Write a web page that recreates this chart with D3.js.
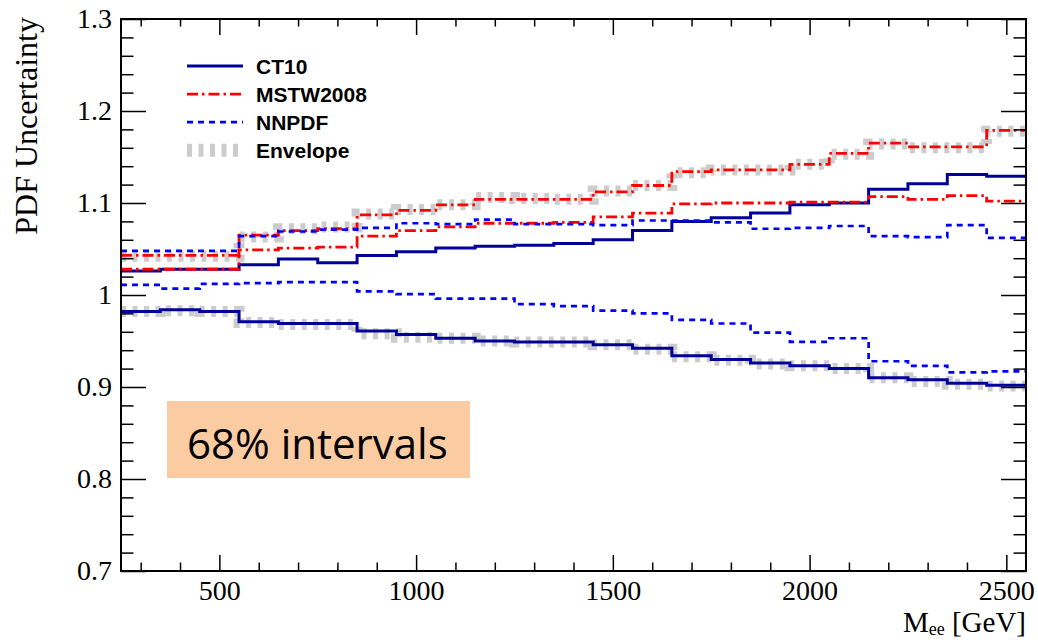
<!DOCTYPE html>
<html>
<head>
<meta charset="utf-8">
<script src="https://cdn.jsdelivr.net/npm/d3@7/dist/d3.min.js"></script>
<style>
  body { margin: 0; background: #fff; }
  .tick text { font-family: "Liberation Serif", "DejaVu Serif", serif; font-size: 28px; fill: #000; }
  .tick line { stroke: #000; stroke-width: 1.5; }
  .legend text { font-family: "Liberation Sans", Arial, sans-serif; font-weight: bold; font-size: 21px; }
</style>
</head>
<body>
<div id="chart"></div>
<script>
// bin left edges (GeV), last bin ends at 2550
var binEdges = [250, 350, 450, 550, 650, 750, 850, 950, 1050, 1150, 1250, 1350,
                1450, 1550, 1650, 1750, 1850, 1950, 2050, 2150, 2250, 2350, 2450];
var binEnd = 2550;

var ct10Up    = [1.026, 1.028, 1.028, 1.033, 1.039, 1.035, 1.043, 1.047, 1.051, 1.053, 1.054, 1.056,
                 1.060, 1.070, 1.080, 1.084, 1.089, 1.098, 1.100, 1.115, 1.121, 1.131, 1.129];
var ct10Down  = [0.982, 0.984, 0.982, 0.971, 0.969, 0.969, 0.961, 0.957, 0.953, 0.950, 0.949, 0.949,
                 0.946, 0.942, 0.934, 0.930, 0.926, 0.923, 0.920, 0.910, 0.908, 0.904, 0.902];
var mstwUp    = [1.043, 1.043, 1.043, 1.065, 1.070, 1.072, 1.087, 1.092, 1.098, 1.104, 1.104, 1.104,
                 1.112, 1.119, 1.134, 1.136, 1.136, 1.142, 1.154, 1.165, 1.161, 1.161, 1.179];
var mstwDown  = [1.028, 1.028, 1.028, 1.049, 1.051, 1.052, 1.064, 1.070, 1.074, 1.078, 1.078, 1.079,
                 1.085, 1.089, 1.099, 1.100, 1.100, 1.101, 1.101, 1.107, 1.104, 1.108, 1.102];
var nnpdfUp   = [1.048, 1.048, 1.048, 1.064, 1.069, 1.071, 1.073, 1.078, 1.077, 1.082, 1.077, 1.077,
                 1.076, 1.081, 1.081, 1.079, 1.072, 1.073, 1.075, 1.064, 1.063, 1.076, 1.062];
var nnpdfDown = [1.011, 1.007, 1.012, 1.013, 1.014, 1.014, 1.004, 1.001, 0.996, 0.996, 0.990, 0.988,
                 0.983, 0.980, 0.973, 0.969, 0.959, 0.949, 0.953, 0.928, 0.923, 0.916, 0.917];
var envUp     = [1.042, 1.042, 1.042, 1.063, 1.072, 1.074, 1.088, 1.093, 1.098, 1.106, 1.105, 1.104,
                 1.113, 1.119, 1.133, 1.136, 1.136, 1.142, 1.153, 1.164, 1.160, 1.160, 1.178];
var envDown   = [0.982, 0.983, 0.982, 0.970, 0.968, 0.968, 0.958, 0.954, 0.953, 0.950, 0.949, 0.949,
                 0.946, 0.941, 0.933, 0.929, 0.925, 0.923, 0.920, 0.910, 0.906, 0.903, 0.901];

var xMajor = [500, 1000, 1500, 2000, 2500];
var yMajor = [0.7, 0.8, 0.9, 1.0, 1.1, 1.2, 1.3];
var legendNames = ['CT10', 'MSTW2008', 'NNPDF', 'Envelope'];

var svgWidth = 1038, svgHeight = 640,
    margin = { top: 19, right: 12, bottom: 69, left: 121 },
    chartWidth = svgWidth - margin.left - margin.right,
    chartHeight = svgHeight - margin.top - margin.bottom;

var x = d3.scaleLinear().domain([250, 2550]).range([0, chartWidth]);
var y = d3.scaleLinear().domain([0.7, 1.3]).range([chartHeight, 0]);

var svg = d3.select('#chart').append('svg')
    .attr('width', svgWidth)
    .attr('height', svgHeight)
    .append('g')
    .attr('transform', 'translate(' + margin.left + ',' + margin.top + ')');

svg.append('clipPath')
    .attr('id', 'plot-clip')
    .append('rect')
    .attr('width', chartWidth)
    .attr('height', chartHeight);

// 68% box behind everything
svg.append('rect')
    .attr('x', 46).attr('y', 382)
    .attr('width', 303).attr('height', 77)
    .attr('fill', '#fbcba2');
svg.append('text')
    .attr('x', 66).attr('y', 440)
    .attr('font-family', '"Open Sans", sans-serif')
    .attr('font-size', 42)
    .attr('fill', '#000')
    .text('68% intervals');

var stepLine = d3.line()
    .curve(d3.curveStepAfter)
    .x(function (d) { return x(d[0]); })
    .y(function (d) { return y(d[1]); });

function toSteps(values) {
    var pts = binEdges.map(function (e, i) { return [e, values[i]]; });
    pts.push([binEnd, values[values.length - 1]]);
    return pts;
}

var styles = {
    env:   { stroke: '#cccccc', width: 11, dash: '5,6.5' },
    ct10:  { stroke: '#000099', width: 3, dash: null },
    mstw:  { stroke: '#ff0000', width: 2.8, dash: '11,4,2.5,4' },
    nnpdf: { stroke: '#0000ff', width: 2.7, dash: '6,5' }
};

var series = [
    ['env', envUp], ['env', envDown],
    ['ct10', ct10Up], ['ct10', ct10Down],
    ['mstw', mstwUp], ['mstw', mstwDown],
    ['nnpdf', nnpdfUp], ['nnpdf', nnpdfDown]
];

var lines = svg.append('g').attr('clip-path', 'url(#plot-clip)');
series.forEach(function (s) {
    var st = styles[s[0]];
    lines.append('path')
        .attr('d', stepLine(toSteps(s[1])))
        .attr('fill', 'none')
        .attr('stroke', st.stroke)
        .attr('stroke-width', st.width)
        .attr('stroke-dasharray', st.dash);
});

// axes, ROOT style: ticks pointing inward on all four sides
var xMinor = d3.range(300, 2550, 100).filter(function (v) { return xMajor.indexOf(v) < 0; });
var yMinor = d3.range(0, 31).map(function (i) { return +(0.7 + i * 0.02).toFixed(2); })
    .filter(function (v) { return Math.round(v * 100) % 10 !== 0; });

function fmtY(d) { return String(+d.toFixed(1)); }

svg.append('g').attr('transform', 'translate(0,' + chartHeight + ')')
    .call(d3.axisBottom(x).tickValues(xMajor).tickSize(-16).tickPadding(9).tickFormat(d3.format('d')));
svg.append('g').attr('transform', 'translate(0,' + chartHeight + ')')
    .call(d3.axisBottom(x).tickValues(xMinor).tickSize(-8.5).tickFormat(''));
svg.append('g')
    .call(d3.axisTop(x).tickValues(xMajor).tickSize(-16).tickFormat(''));
svg.append('g')
    .call(d3.axisTop(x).tickValues(xMinor).tickSize(-7.5).tickFormat(''));
svg.append('g')
    .call(d3.axisLeft(y).tickValues(yMajor).tickSize(-25).tickPadding(9).tickFormat(fmtY));
svg.append('g')
    .call(d3.axisLeft(y).tickValues(yMinor).tickSize(-12.5).tickFormat(''));
svg.append('g').attr('transform', 'translate(' + chartWidth + ',0)')
    .call(d3.axisRight(y).tickValues(yMajor).tickSize(-25).tickFormat(''));
svg.append('g').attr('transform', 'translate(' + chartWidth + ',0)')
    .call(d3.axisRight(y).tickValues(yMinor).tickSize(-12.5).tickFormat(''));
svg.selectAll('.domain').remove();

svg.append('rect')
    .attr('width', chartWidth)
    .attr('height', chartHeight)
    .attr('fill', 'none')
    .attr('stroke', '#000')
    .attr('stroke-width', 2);

// axis titles
svg.append('text')
    .attr('transform', 'translate(-84,-2) rotate(-90)')
    .attr('text-anchor', 'end')
    .attr('font-family', '"Liberation Serif", serif')
    .attr('font-size', 32)
    .text('PDF Uncertainty');

var xTitle = svg.append('text')
    .attr('x', chartWidth)
    .attr('y', chartHeight + 61)
    .attr('text-anchor', 'end')
    .attr('font-family', '"Liberation Serif", serif')
    .attr('font-size', 29);
xTitle.append('tspan').text('M');
xTitle.append('tspan').attr('font-size', 18).attr('dy', 3).text('ee');
xTitle.append('tspan').attr('dy', -3).text(' [GeV]');

// legend
var legend = svg.append('g').attr('class', 'legend')
    .attr('transform', 'translate(66,47)');
var legendKeys = ['ct10', 'mstw', 'nnpdf', 'env'];
legendNames.forEach(function (name, i) {
    var st = styles[legendKeys[i]];
    var ly = i * 28.1;
    legend.append('line')
        .attr('x1', 0).attr('x2', 56)
        .attr('y1', ly).attr('y2', ly)
        .attr('stroke', st.stroke)
        .attr('stroke-width', legendKeys[i] === 'env' ? 13 : st.width)
        .attr('stroke-dasharray', st.dash);
    legend.append('text')
        .attr('x', 69)
        .attr('y', ly + 7.5)
        .text(name);
});
</script>
</body>
</html>
